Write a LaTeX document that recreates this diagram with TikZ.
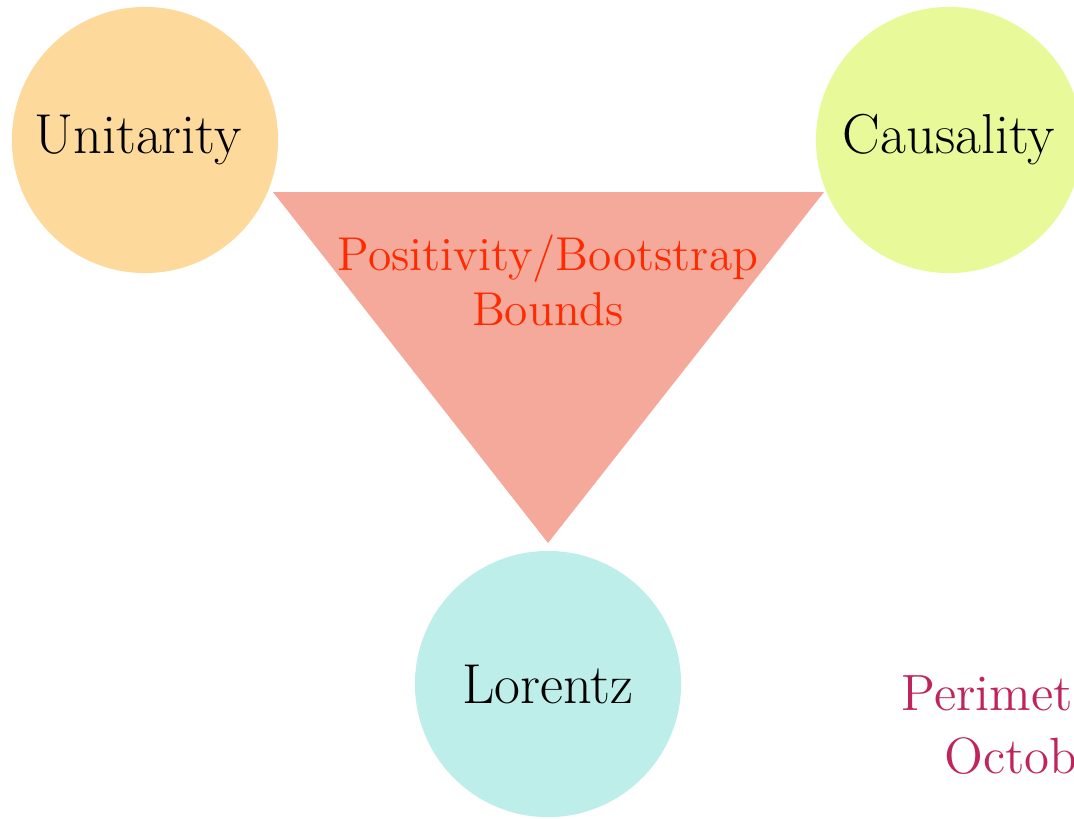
\documentclass[tikz,border=0pt]{standalone}
\usetikzlibrary{positioning}
\definecolor{unitfill}{HTML}{FDD99B}
\definecolor{causfill}{HTML}{E8F99A}
\definecolor{lorfill}{HTML}{BDEEEA}
\definecolor{trifill}{HTML}{F4A99A}
\definecolor{boundred}{HTML}{FF2A00}
\definecolor{pericol}{HTML}{C0245C}
\begin{document}
\begin{tikzpicture}[x=0.01cm,y=-0.01cm,
  bubble/.style={circle,minimum size=2.66cm,inner sep=0pt,font=\fontsize{16}{19}\selectfont},
  venue/.style={anchor=base west,text=pericol,font=\fontsize{14.5}{17}\selectfont}]
\useasboundingbox (0,0) rectangle (1074,818);
\clip (0,0) rectangle (1074,818);
% the inverted triangle
\coordinate (tl) at (273,192);
\coordinate (tr) at (824,192);
\coordinate (tb) at (548,543);
\fill[trifill] (tl) -- (tr) -- (tb) -- cycle;
\node[align=center,text=boundred,font=\fontsize{13.5}{15.6}\selectfont] (bounds) at (548,280) {Positivity/Bootstrap\\Bounds};
% the three circles
\node[bubble,fill=unitfill] (unit) at (145,140) {\hspace*{-4pt}Unitarity};
\node[bubble,fill=causfill] (caus) at (949,140) {Causality};
\node[bubble,fill=lorfill] (lor) at (548,684) {Lorentz};
% cut-off footer
\node[venue] (peri) at (889,710) {Perimet};
\node[venue] (octo) at (932,773) {Octob};
\end{tikzpicture}
\end{document}
